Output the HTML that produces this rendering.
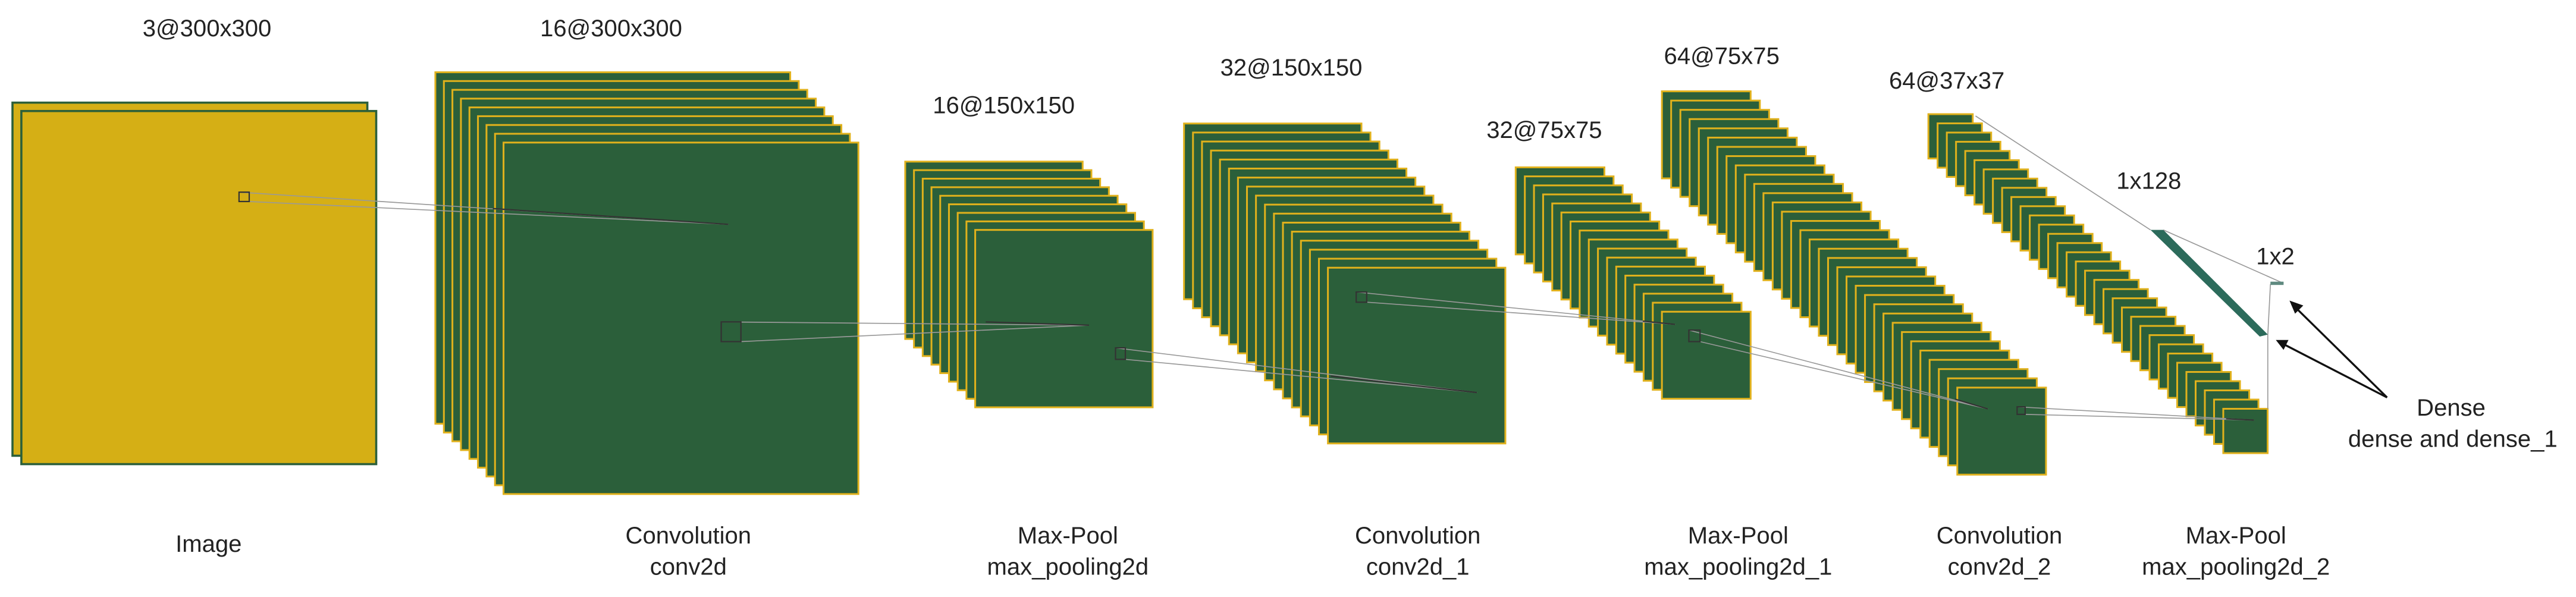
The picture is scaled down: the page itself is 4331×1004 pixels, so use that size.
<!DOCTYPE html>
<html><head><meta charset="utf-8"><style>
html,body{margin:0;padding:0;background:#fff;}
svg{display:block;}
text{font-family:"Liberation Sans",sans-serif;font-size:14.5px;fill:#222;}
</style></head><body>
<svg id="s" width="4331" height="1004" viewBox="0 0 1568 363.5" preserveAspectRatio="none" xmlns="http://www.w3.org/2000/svg">
<g id="layers"></g>
<g stroke="#999" stroke-width="0.6" fill="none">
<line x1="145.5" y1="117" x2="443.4" y2="136.6"/><line x1="151.7" y1="122.7" x2="443.4" y2="136.6"/>
<line x1="439" y1="196" x2="662.9" y2="198"/><line x1="451" y1="208" x2="662.9" y2="198"/>
<line x1="679" y1="211.8" x2="899" y2="239"/><line x1="685" y1="218.8" x2="899" y2="239"/>
<line x1="825.5" y1="177.8" x2="1019.6" y2="197.5"/><line x1="831.9" y1="184" x2="1019.6" y2="197.5"/>
<line x1="1028" y1="201" x2="1210" y2="249"/><line x1="1034.8" y1="208" x2="1210" y2="249"/>
<line x1="1227.8" y1="247.7" x2="1372" y2="255.8"/><line x1="1232.7" y1="252.3" x2="1372" y2="255.8"/>
<line x1="1202.5" y1="70.6" x2="1309" y2="140"/><line x1="1380.4" y1="248.9" x2="1380.4" y2="204"/>
<line x1="1316.8" y1="140" x2="1390" y2="172.5"/><line x1="1380.4" y1="204" x2="1382" y2="173"/>
</g>
<g stroke="#333" stroke-width="0.8" fill="none">
<line x1="443.4" y1="136.6" x2="300" y2="127"/>
<line x1="662.9" y1="198" x2="600" y2="196"/>
<line x1="899" y1="239" x2="810" y2="229"/>
<line x1="1019.6" y1="197.5" x2="1000" y2="195.5"/>
<line x1="1210" y1="249" x2="1190" y2="243"/>
<line x1="1372" y1="255.8" x2="1355" y2="255"/>
<rect x="145.5" y="117" width="6.2" height="5.7"/>
<rect x="439" y="196" width="12" height="12"/>
<rect x="679" y="211.8" width="6" height="7"/>
<rect x="825.5" y="177.8" width="6.4" height="6.2"/>
<rect x="1028" y="201" width="6.8" height="7"/>
<rect x="1227.8" y="247.7" width="4.9" height="4.6"/>
</g>
<polygon points="1309,140 1316.8,140 1380.4,203.7 1375.5,204.9" fill="#2c6b5b"/>
<rect x="1382" y="171.5" width="8" height="2" fill="#5f8a80"/>
<g stroke="#111" stroke-width="1.2" fill="#111">
<line x1="1453" y1="242" x2="1395" y2="185"/>
<line x1="1453" y1="242" x2="1387" y2="208"/>
<polygon points="1393.6,183 1402,186 1397,191" stroke="none"/>
<polygon points="1385.3,207 1393,207 1390,213" stroke="none"/>
</g>
<g text-anchor="middle">
<text x="126" y="22">3@300x300</text>
<text x="372" y="22">16@300x300</text>
<text x="611" y="69">16@150x150</text>
<text x="786" y="46">32@150x150</text>
<text x="940" y="84">32@75x75</text>
<text x="1048" y="39">64@75x75</text>
<text x="1185" y="54">64@37x37</text>
<text x="1308" y="115">1x128</text>
<text x="1385" y="161">1x2</text>
<text x="1492" y="253">Dense</text>
<text x="1493" y="272">dense and dense_1</text>
<text x="127" y="336">Image</text>
<text x="419" y="331">Convolution</text><text x="419" y="350">conv2d</text>
<text x="650" y="331">Max-Pool</text><text x="650" y="350">max_pooling2d</text>
<text x="863" y="331">Convolution</text><text x="863" y="350">conv2d_1</text>
<text x="1058" y="331">Max-Pool</text><text x="1058" y="350">max_pooling2d_1</text>
<text x="1217" y="331">Convolution</text><text x="1217" y="350">conv2d_2</text>
<text x="1361" y="331">Max-Pool</text><text x="1361" y="350">max_pooling2d_2</text>
</g>
</svg>
<script>
(function(){
var g=document.getElementById('layers'),ns='http://www.w3.org/2000/svg';
function stack(x0,y0,x1,y1,w,h,n,fill,stroke,sw){
 for(var i=0;i<n;i++){
  var t=n==1?1:i/(n-1);
  var r=document.createElementNS(ns,'rect');
  r.setAttribute('x',x0+(x1-x0)*t);r.setAttribute('y',y0+(y1-y0)*t);
  r.setAttribute('width',w);r.setAttribute('height',h);
  r.setAttribute('fill',fill);r.setAttribute('stroke',stroke);r.setAttribute('stroke-width',sw);
  g.appendChild(r);
 }
}
var G='#2b5f3a',Y='#e0b11c';
stack(7.6,62.5,13,67.6,216,215,2,'#d5af15',G,1.3);
stack(265,44,306.5,86.8,216,214,9,G,Y,1.1);
stack(551,98.4,593.6,140,108,108,9,G,Y,1.1);
stack(720.7,75.2,808.3,163,108,107,17,G,Y,1.1);
stack(922.6,101.9,1011.6,189.8,54,53,17,G,Y,1.1);
stack(1011.6,55.6,1191.4,236,54,53,33,G,Y,1.1);
stack(1173.8,69.5,1353.3,248.9,27,27,33,G,Y,1.1);
})();
</script>
</body></html>
